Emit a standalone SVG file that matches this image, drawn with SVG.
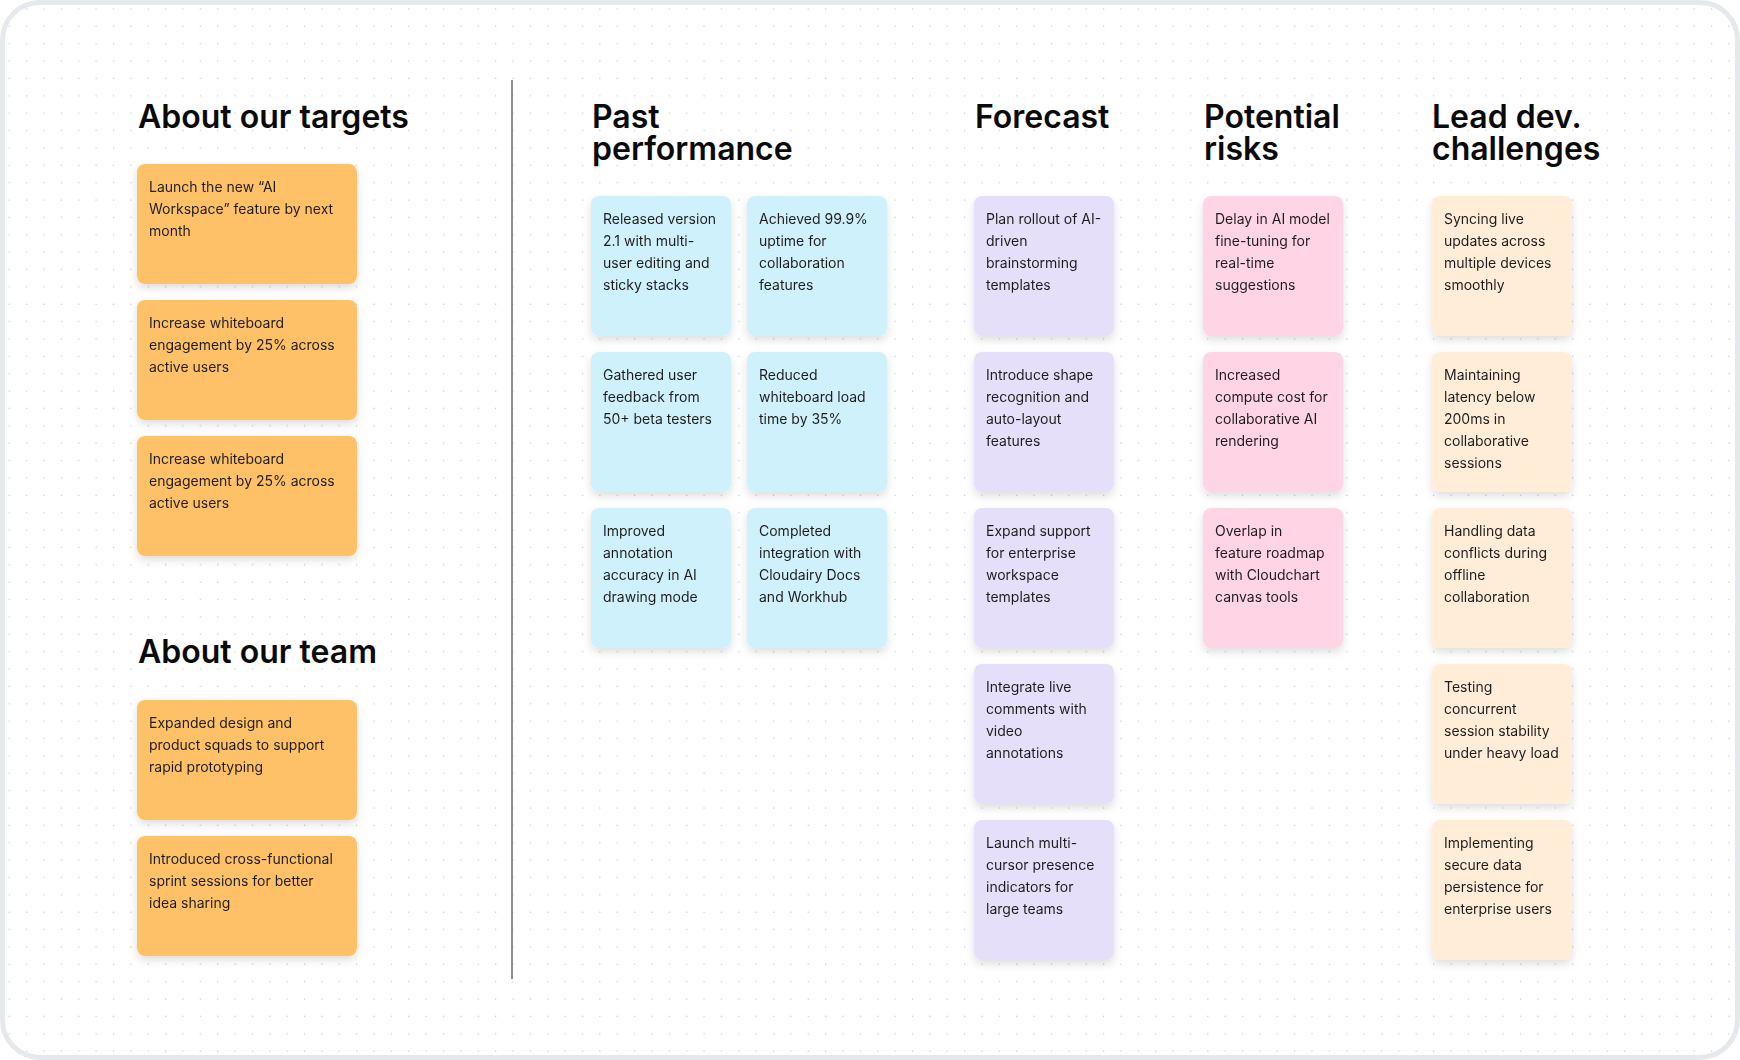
<svg xmlns="http://www.w3.org/2000/svg" width="1740" height="1060" viewBox="0 0 1740 1060">
  <defs>
    <pattern id="dots" x="0" y="0" width="17.37" height="17.37" patternUnits="userSpaceOnUse">
      <circle cx="9.3" cy="9" r="0.75" fill="#c6cad0"/>
    </pattern>
    <filter id="lift" x="-20%" y="-20%" width="140%" height="150%">
      <feDropShadow dx="0" dy="4" stdDeviation="4" flood-color="#000000" flood-opacity="0.13"/>
    </filter>
  </defs>
  <style>
    .title { font-family: Inter, "Liberation Sans", sans-serif; font-size: 32px; font-weight: 600; fill: #0a0a0a; }
    .txt { font-family: Inter, "Liberation Sans", sans-serif; font-size: 14px; font-weight: 400; fill: #1f1f1f; }
    .note { filter: url(#lift); }
    .orange { fill: #fec168; }
    .blue { fill: #cff1fc; }
    .purple { fill: #e6dff9; }
    .pink { fill: #ffd5e6; }
    .cream { fill: #ffedd8; }
    .divider { stroke: #8f8b91; stroke-width: 2; }
  </style>

  <!-- board background and frame -->
  <rect x="2.5" y="2.5" width="1735" height="1055" rx="37.5" fill="#ffffff"/>
  <rect x="2.5" y="2.5" width="1735" height="1055" rx="37.5" fill="url(#dots)"/>
  <rect x="2.5" y="2.5" width="1735" height="1055" rx="37.5" fill="none" stroke="#e5e8ed" stroke-width="5"/>

  <!-- section headings -->
  <g id="headings">
    <text class="title" x="138" y="128">About our targets</text>
    <text class="title" x="138" y="663">About our team</text>
    <text class="title" x="592" y="128"><tspan x="592">Past</tspan><tspan x="592" dy="32">performance</tspan></text>
    <text class="title" x="975" y="128">Forecast</text>
    <text class="title" x="1204" y="128"><tspan x="1204">Potential</tspan><tspan x="1204" dy="32">risks</tspan></text>
    <text class="title" x="1432" y="128"><tspan x="1432">Lead dev.</tspan><tspan x="1432" dy="32">challenges</tspan></text>
  </g>

  <!-- connectors: a single vertical divider between the two halves -->
  <g id="connectors">
    <line class="divider" x1="512" y1="80" x2="512" y2="979"/>
  </g>

  <!-- About our targets -->
  <g id="target-1" class="note">
    <rect class="orange" x="137" y="164" width="220" height="120" rx="8"/>
    <text class="txt" x="149" y="192"><tspan x="149">Launch the new “AI</tspan><tspan x="149" dy="22">Workspace” feature by next</tspan><tspan x="149" dy="22">month</tspan></text>
  </g>
  <g id="target-2" class="note">
    <rect class="orange" x="137" y="300" width="220" height="120" rx="8"/>
    <text class="txt" x="149" y="328"><tspan x="149">Increase whiteboard</tspan><tspan x="149" dy="22">engagement by 25% across</tspan><tspan x="149" dy="22">active users</tspan></text>
  </g>
  <g id="target-3" class="note">
    <rect class="orange" x="137" y="436" width="220" height="120" rx="8"/>
    <text class="txt" x="149" y="464"><tspan x="149">Increase whiteboard</tspan><tspan x="149" dy="22">engagement by 25% across</tspan><tspan x="149" dy="22">active users</tspan></text>
  </g>

  <!-- About our team -->
  <g id="team-1" class="note">
    <rect class="orange" x="137" y="700" width="220" height="120" rx="8"/>
    <text class="txt" x="149" y="728"><tspan x="149">Expanded design and</tspan><tspan x="149" dy="22">product squads to support</tspan><tspan x="149" dy="22">rapid prototyping</tspan></text>
  </g>
  <g id="team-2" class="note">
    <rect class="orange" x="137" y="836" width="220" height="120" rx="8"/>
    <text class="txt" x="149" y="864"><tspan x="149">Introduced cross-functional</tspan><tspan x="149" dy="22">sprint sessions for better</tspan><tspan x="149" dy="22">idea sharing</tspan></text>
  </g>

  <!-- Past performance -->
  <g id="past-1" class="note">
    <rect class="blue" x="591" y="196" width="140" height="140" rx="8"/>
    <text class="txt" x="603" y="224"><tspan x="603">Released version</tspan><tspan x="603" dy="22">2.1 with multi-</tspan><tspan x="603" dy="22">user editing and</tspan><tspan x="603" dy="22">sticky stacks</tspan></text>
  </g>
  <g id="past-2" class="note">
    <rect class="blue" x="747" y="196" width="140" height="140" rx="8"/>
    <text class="txt" x="759" y="224"><tspan x="759">Achieved 99.9%</tspan><tspan x="759" dy="22">uptime for</tspan><tspan x="759" dy="22">collaboration</tspan><tspan x="759" dy="22">features</tspan></text>
  </g>
  <g id="past-3" class="note">
    <rect class="blue" x="591" y="352" width="140" height="140" rx="8"/>
    <text class="txt" x="603" y="380"><tspan x="603">Gathered user</tspan><tspan x="603" dy="22">feedback from</tspan><tspan x="603" dy="22">50+ beta testers</tspan></text>
  </g>
  <g id="past-4" class="note">
    <rect class="blue" x="747" y="352" width="140" height="140" rx="8"/>
    <text class="txt" x="759" y="380"><tspan x="759">Reduced</tspan><tspan x="759" dy="22">whiteboard load</tspan><tspan x="759" dy="22">time by 35%</tspan></text>
  </g>
  <g id="past-5" class="note">
    <rect class="blue" x="591" y="508" width="140" height="140" rx="8"/>
    <text class="txt" x="603" y="536"><tspan x="603">Improved</tspan><tspan x="603" dy="22">annotation</tspan><tspan x="603" dy="22">accuracy in AI</tspan><tspan x="603" dy="22">drawing mode</tspan></text>
  </g>
  <g id="past-6" class="note">
    <rect class="blue" x="747" y="508" width="140" height="140" rx="8"/>
    <text class="txt" x="759" y="536"><tspan x="759">Completed</tspan><tspan x="759" dy="22">integration with</tspan><tspan x="759" dy="22">Cloudairy Docs</tspan><tspan x="759" dy="22">and Workhub</tspan></text>
  </g>

  <!-- Forecast -->
  <g id="forecast-1" class="note">
    <rect class="purple" x="974" y="196" width="140" height="140" rx="8"/>
    <text class="txt" x="986" y="224"><tspan x="986">Plan rollout of AI-</tspan><tspan x="986" dy="22">driven</tspan><tspan x="986" dy="22">brainstorming</tspan><tspan x="986" dy="22">templates</tspan></text>
  </g>
  <g id="forecast-2" class="note">
    <rect class="purple" x="974" y="352" width="140" height="140" rx="8"/>
    <text class="txt" x="986" y="380"><tspan x="986">Introduce shape</tspan><tspan x="986" dy="22">recognition and</tspan><tspan x="986" dy="22">auto-layout</tspan><tspan x="986" dy="22">features</tspan></text>
  </g>
  <g id="forecast-3" class="note">
    <rect class="purple" x="974" y="508" width="140" height="140" rx="8"/>
    <text class="txt" x="986" y="536"><tspan x="986">Expand support</tspan><tspan x="986" dy="22">for enterprise</tspan><tspan x="986" dy="22">workspace</tspan><tspan x="986" dy="22">templates</tspan></text>
  </g>
  <g id="forecast-4" class="note">
    <rect class="purple" x="974" y="664" width="140" height="140" rx="8"/>
    <text class="txt" x="986" y="692"><tspan x="986">Integrate live</tspan><tspan x="986" dy="22">comments with</tspan><tspan x="986" dy="22">video</tspan><tspan x="986" dy="22">annotations</tspan></text>
  </g>
  <g id="forecast-5" class="note">
    <rect class="purple" x="974" y="820" width="140" height="140" rx="8"/>
    <text class="txt" x="986" y="848"><tspan x="986">Launch multi-</tspan><tspan x="986" dy="22">cursor presence</tspan><tspan x="986" dy="22">indicators for</tspan><tspan x="986" dy="22">large teams</tspan></text>
  </g>

  <!-- Potential risks -->
  <g id="risk-1" class="note">
    <rect class="pink" x="1203" y="196" width="140" height="140" rx="8"/>
    <text class="txt" x="1215" y="224"><tspan x="1215">Delay in AI model</tspan><tspan x="1215" dy="22">fine-tuning for</tspan><tspan x="1215" dy="22">real-time</tspan><tspan x="1215" dy="22">suggestions</tspan></text>
  </g>
  <g id="risk-2" class="note">
    <rect class="pink" x="1203" y="352" width="140" height="140" rx="8"/>
    <text class="txt" x="1215" y="380"><tspan x="1215">Increased</tspan><tspan x="1215" dy="22">compute cost for</tspan><tspan x="1215" dy="22">collaborative AI</tspan><tspan x="1215" dy="22">rendering</tspan></text>
  </g>
  <g id="risk-3" class="note">
    <rect class="pink" x="1203" y="508" width="140" height="140" rx="8"/>
    <text class="txt" x="1215" y="536"><tspan x="1215">Overlap in</tspan><tspan x="1215" dy="22">feature roadmap</tspan><tspan x="1215" dy="22">with Cloudchart</tspan><tspan x="1215" dy="22">canvas tools</tspan></text>
  </g>

  <!-- Lead dev. challenges -->
  <g id="challenge-1" class="note">
    <rect class="cream" x="1432" y="196" width="140" height="140" rx="8"/>
    <text class="txt" x="1444" y="224"><tspan x="1444">Syncing live</tspan><tspan x="1444" dy="22">updates across</tspan><tspan x="1444" dy="22">multiple devices</tspan><tspan x="1444" dy="22">smoothly</tspan></text>
  </g>
  <g id="challenge-2" class="note">
    <rect class="cream" x="1432" y="352" width="140" height="140" rx="8"/>
    <text class="txt" x="1444" y="380"><tspan x="1444">Maintaining</tspan><tspan x="1444" dy="22">latency below</tspan><tspan x="1444" dy="22">200ms in</tspan><tspan x="1444" dy="22">collaborative</tspan><tspan x="1444" dy="22">sessions</tspan></text>
  </g>
  <g id="challenge-3" class="note">
    <rect class="cream" x="1432" y="508" width="140" height="140" rx="8"/>
    <text class="txt" x="1444" y="536"><tspan x="1444">Handling data</tspan><tspan x="1444" dy="22">conflicts during</tspan><tspan x="1444" dy="22">offline</tspan><tspan x="1444" dy="22">collaboration</tspan></text>
  </g>
  <g id="challenge-4" class="note">
    <rect class="cream" x="1432" y="664" width="140" height="140" rx="8"/>
    <text class="txt" x="1444" y="692"><tspan x="1444">Testing</tspan><tspan x="1444" dy="22">concurrent</tspan><tspan x="1444" dy="22">session stability</tspan><tspan x="1444" dy="22">under heavy load</tspan></text>
  </g>
  <g id="challenge-5" class="note">
    <rect class="cream" x="1432" y="820" width="140" height="140" rx="8"/>
    <text class="txt" x="1444" y="848"><tspan x="1444">Implementing</tspan><tspan x="1444" dy="22">secure data</tspan><tspan x="1444" dy="22">persistence for</tspan><tspan x="1444" dy="22">enterprise users</tspan></text>
  </g>
</svg>
